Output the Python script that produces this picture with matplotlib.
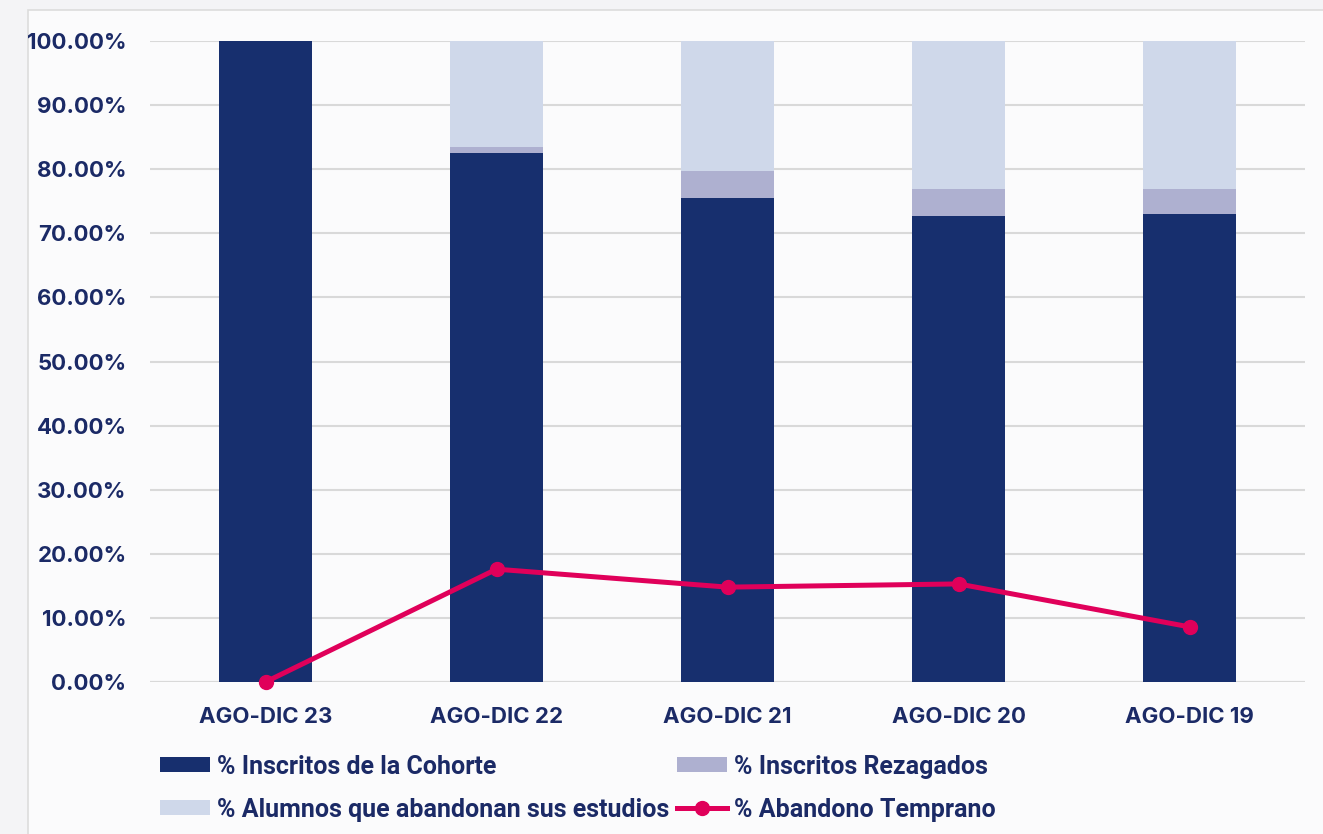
import matplotlib.pyplot as plt
import numpy as np
from matplotlib.patches import Rectangle

# datos
periodos = ['AGO-DIC 23', 'AGO-DIC 22', 'AGO-DIC 21', 'AGO-DIC 20', 'AGO-DIC 19']
cohorte = [100.0, 82.5, 75.5, 72.7, 73.0]
rezagados = [0.0, 1.0, 4.2, 4.2, 3.9]
abandonan = [0.0, 16.5, 20.3, 23.1, 23.1]
abandono_temprano = [0.0, 17.6, 14.8, 15.3, 8.6]

navy = '#172f6e'
c_rez = '#aeb0d0'
c_aban = '#cfd8ea'
c_line = '#e0005a'
txt = '#1b2a66'

plt.rcParams['font.family'] = ['Inter', 'DejaVu Sans']

fig = plt.figure(figsize=(13.23, 8.34), dpi=100)
fig.patch.set_facecolor('#f4f4f6')
# marco claro
fig.add_artist(Rectangle((28 / 1323, -0.01), 1.0, 1 - 10 / 834 + 0.01,
                         transform=fig.transFigure, facecolor='#fbfbfc',
                         edgecolor='#dcdcdc', lw=1.2, zorder=-5))

ax = fig.add_axes([150 / 1323, 1 - 682 / 834, 1155 / 1323, 641 / 834])
ax.set_facecolor('none')

x = np.arange(len(periodos))
w = 0.4
b1 = ax.bar(x, cohorte, w, color=navy, zorder=2)
b2 = ax.bar(x, rezagados, w, bottom=cohorte, color=c_rez, zorder=2)
bottom2 = [a + b for a, b in zip(cohorte, rezagados)]
b3 = ax.bar(x, abandonan, w, bottom=bottom2, color=c_aban, zorder=2)
ln, = ax.plot(x, abandono_temprano, color=c_line, lw=3.6, marker='o', ms=10,
              zorder=3, clip_on=False)

ax.set_xlim(-0.5, 4.5)
ax.set_ylim(0, 100)
ax.set_yticks(np.arange(0, 101, 10))
ax.set_yticklabels([f'{v:.2f}%' for v in range(0, 101, 10)])
ax.set_xticks(x)
ax.set_xticklabels(periodos)
ax.tick_params(length=0, labelsize=16, labelcolor=txt)
ax.tick_params(axis='y', pad=17)
ax.tick_params(axis='x', pad=18)
for lab in ax.get_xticklabels() + ax.get_yticklabels():
    lab.set_fontweight('bold')
ax.grid(axis='y', color='#d9d9d9', lw=1.5, zorder=0)
for s in ax.spines.values():
    s.set_visible(False)
ax.axhline(0, color='#d9d9d9', lw=1.5, zorder=1)

# orden por columnas: (cohorte, abandonan) | (rezagados, temprano)
leg = fig.legend([b1, b3, b2, ln],
                 ['% Inscritos de la Cohorte', '% Alumnos que abandonan sus estudios',
                  '% Inscritos Rezagados', '% Abandono Temprano'],
                 ncol=2, loc='lower left', bbox_to_anchor=(137 / 1323, -0.012),
                 frameon=False, handlelength=2.0, handleheight=0.55,
                 columnspacing=0.3, labelspacing=0.75, handletextpad=0.3,
                 prop={'family': ['Roboto', 'DejaVu Sans'], 'size': 18, 'weight': 'bold'})
for t in leg.get_texts():
    t.set_color(txt)

fig.savefig('out.png', dpi=100, facecolor=fig.get_facecolor())
